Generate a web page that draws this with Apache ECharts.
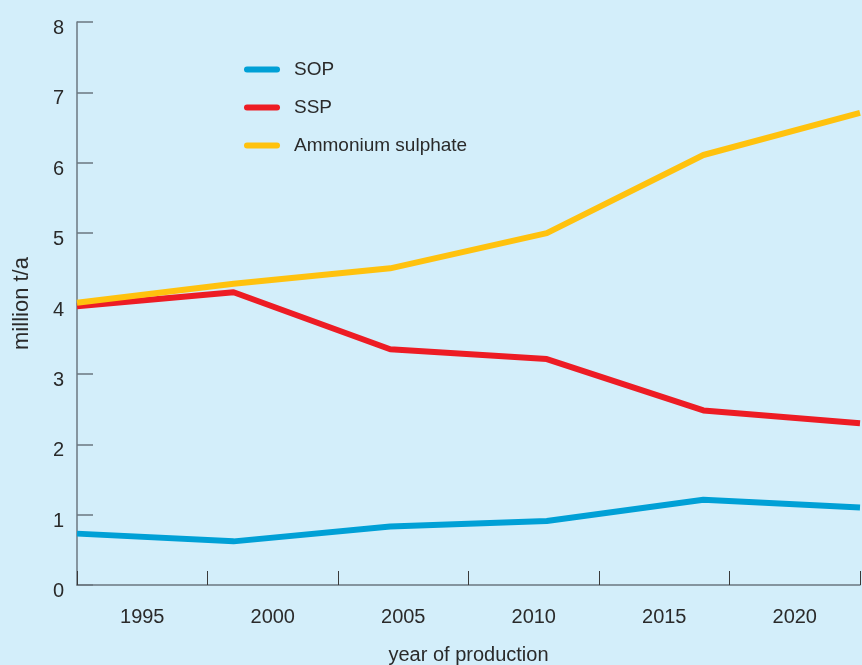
<!DOCTYPE html>
<html>
<head>
<meta charset="utf-8">
<script src="https://cdn.jsdelivr.net/npm/echarts@6/dist/echarts.min.js"></script>
<style>
  html, body { margin: 0; padding: 0; background: #d3eefa; }
  #chart { width: 862px; height: 665px; }
</style>
</head>
<body>
<div id="chart"></div>
<script>
// Production of sulphate fertilisers, million t/a
const years = [1992.5, 1998.5, 2004.5, 2010.5, 2016.5, 2022.5];
const sop = [0.73, 0.62, 0.83, 0.91, 1.21, 1.10];
const ssp = [3.96, 4.16, 3.35, 3.21, 2.48, 2.30];
const ammoniumSulphate = [4.01, 4.28, 4.50, 5.00, 6.11, 6.71];

const yearLabels = [1995, 2000, 2005, 2010, 2015, 2020];
const yearTicks = [1992.5, 1997.5, 2002.5, 2007.5, 2012.5, 2017.5, 2022.5];

const FONT = "'Liberation Sans', Arial, sans-serif";
const TEXT = '#2a2a2a';
const AXIS = '#6b7780';

// rounded bar used as the legend key
const keyIcon = 'path://M3,0 L33,0 A3,3 0 0 1 33,6 L3,6 A3,3 0 0 1 3,0 Z';

const pair = (vals) => years.map((y, i) => [y, vals[i]]);

const chart = echarts.init(document.getElementById('chart'), null, { renderer: 'canvas' });
chart.setOption({
  backgroundColor: '#d3eefa',
  animation: false,
  textStyle: { fontFamily: FONT },
  grid: { left: 77, right: 2, top: 22, bottom: 80, containLabel: false, outerBoundsMode: 'none' },
  legend: {
    orient: 'vertical',
    left: 244,
    top: 60,
    padding: 0,
    icon: keyIcon,
    itemWidth: 36,
    itemHeight: 6,
    itemGap: 19,
    textStyle: { fontFamily: FONT, fontSize: 19, lineHeight: 19, color: TEXT, padding: [0, 0, 0, 9] },
    data: ['SOP', 'SSP', 'Ammonium sulphate']
  },
  xAxis: {
    type: 'value',
    min: 1992.5,
    max: 2022.5,
    name: 'year of production',
    nameLocation: 'middle',
    nameGap: 70,
    nameTextStyle: { fontFamily: FONT, fontSize: 20, color: TEXT, verticalAlign: 'middle' },
    axisLine: { show: true, lineStyle: { color: AXIS, width: 1.5 } },
    axisTick: { show: true, inside: true, length: 14, customValues: yearTicks, lineStyle: { color: '#3a3a3a', width: 1 } },
    axisLabel: { customValues: yearLabels, margin: 22, fontFamily: FONT, fontSize: 20, color: TEXT, formatter: (v) => String(v) },
    splitLine: { show: false }
  },
  yAxis: {
    type: 'value',
    min: 0,
    max: 8,
    interval: 1,
    name: 'million t/a',
    nameLocation: 'middle',
    nameGap: 55,
    nameRotate: 90,
    nameTextStyle: { fontFamily: FONT, fontSize: 22, color: TEXT, verticalAlign: 'middle' },
    axisLine: { show: true, lineStyle: { color: AXIS, width: 1.5 } },
    axisTick: { show: true, inside: true, length: 16, lineStyle: { color: AXIS, width: 1.5 } },
    axisLabel: {
      margin: 13,
      color: TEXT,
      formatter: (v) => '{n|' + v + '}',
      rich: { n: { fontFamily: FONT, fontSize: 20, color: TEXT, padding: [13, 0, 0, 0] } }
    },
    splitLine: { show: false }
  },
  series: [
    { name: 'SOP', type: 'line', data: pair(sop), symbol: 'none', color: '#00a0d6',
      lineStyle: { width: 6, color: '#00a0d6' } },
    { name: 'SSP', type: 'line', data: pair(ssp), symbol: 'none', color: '#ed1c24',
      lineStyle: { width: 6, color: '#ed1c24' } },
    { name: 'Ammonium sulphate', type: 'line', data: pair(ammoniumSulphate), symbol: 'none', color: '#ffc20e',
      lineStyle: { width: 6, color: '#ffc20e' } }
  ]
});
</script>
</body>
</html>
